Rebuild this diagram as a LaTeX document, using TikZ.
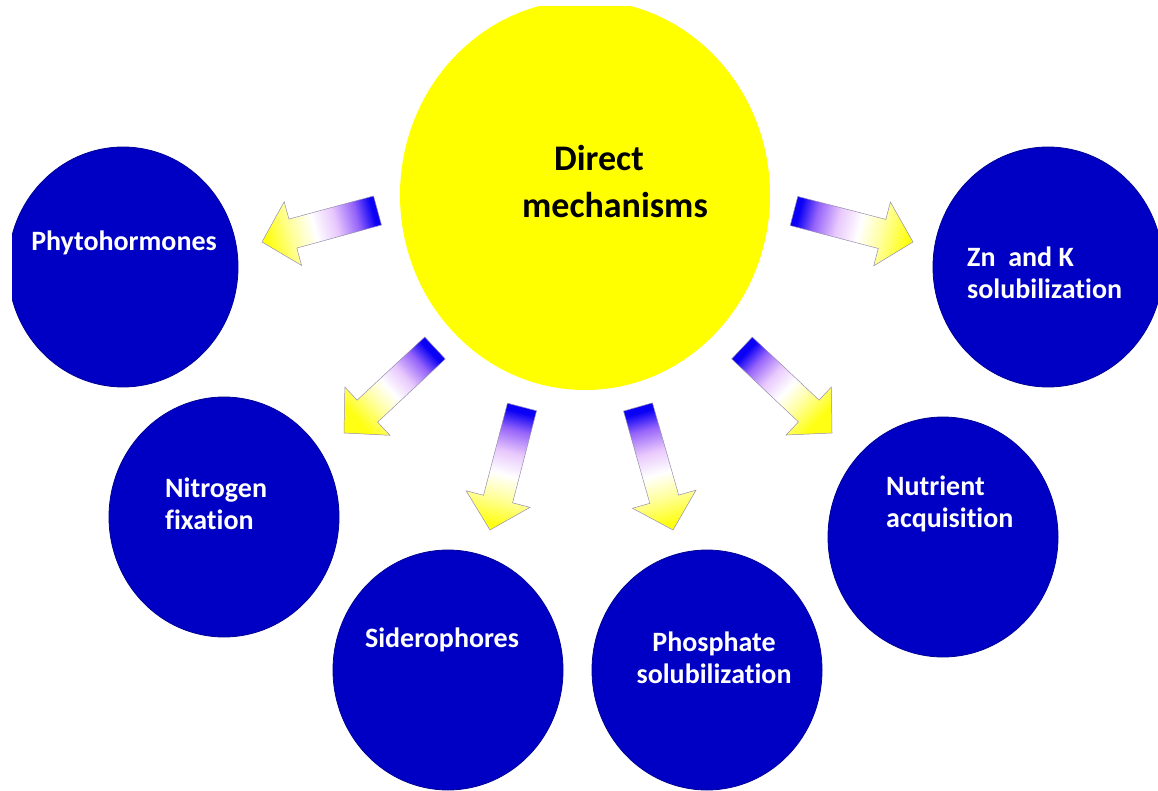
\documentclass[tikz,border=0pt]{standalone}
\usepackage{fontspec}
\setmainfont{Carlito}[Ligatures=NoCommon]
\usetikzlibrary{calc,shapes.geometric}
\definecolor{circblue}{RGB}{0,0,196}
\definecolor{circedge}{RGB}{0,0,150}
\definecolor{sunyellow}{RGB}{255,255,0}
\definecolor{arrowblue}{RGB}{10,0,245}
\definecolor{arrowviolet}{RGB}{150,100,250}
\definecolor{arrowlilac}{RGB}{232,200,252}
\definecolor{arrowyellow}{RGB}{255,255,20}
\definecolor{arrowedge}{RGB}{150,140,175}
\pgfdeclarehorizontalshading{arrowshade}{100bp}{color(0bp)=(arrowblue); color(25bp)=(arrowblue); color(33bp)=(arrowviolet); color(43bp)=(arrowlilac); color(53bp)=(white); color(63bp)=(arrowyellow!40!white); color(75bp)=(arrowyellow); color(100bp)=(arrowyellow)}
\tikzset{
  bubble/.style={ellipse, fill=circblue, draw=circedge, line width=0.8pt,
    minimum width=230pt, minimum height=240pt, inner sep=0pt},
  sun/.style={ellipse, fill=sunyellow, minimum width=370pt, minimum height=390pt, inner sep=0pt},
  lbl/.style={text=white, font=\fontsize{28}{32}\selectfont\bfseries, inner sep=0pt},
  biglbl/.style={text=black, font=\fontsize{36}{47}\selectfont\bfseries, inner sep=0pt, align=center},
  arrowbody/.style={shading=arrowshade, draw=arrowedge, line width=0.5pt, line join=miter}
}
\newcommand{\blockarrow}[2]{%
  \path let \p1=($(#2)-(#1)$) in \pgfextra{\pgfmathsetmacro{\arrang}{atan2(\y1,\x1)}\global\let\arrangle\arrang};
  \coordinate (#2-n) at ($(#2)!32pt!(#1)$);
  \shade[arrowbody, shading angle=\arrangle]
    ($(#1)!15pt!90:(#2)$) -- ($(#2-n)!15pt!90:(#2)$) -- ($(#2-n)!33pt!90:(#2)$)
    -- (#2) -- ($(#2-n)!33pt!-90:(#2)$) -- ($(#2-n)!15pt!-90:(#2)$)
    -- ($(#1)!15pt!-90:(#2)$) -- cycle;
}
\begin{document}
\begin{tikzpicture}[x=1pt,y=-1pt]
\useasboundingbox (0,0) rectangle (1158,791);
\begin{scope}
\clip (12,7) rectangle (1158,791);
\node[sun] (direct) at (585,195) {};
\node[bubble] (phyto) at (123,267) {};
\node[bubble] (znk) at (1048,267) {};
\node[bubble] (nitro) at (224,517) {};
\node[bubble] (sidero) at (448,670) {};
\node[bubble] (phos) at (707,670) {};
\node[bubble] (nutri) at (943,537) {};
\end{scope}
% arrow tails and tips
\coordinate (a1t) at (377.5,210.5); \coordinate (a1h) at (262,242);
\coordinate (a2t) at (794,211);     \coordinate (a2h) at (913,242);
\coordinate (a3t) at (435,348);     \coordinate (a3h) at (344,433);
\coordinate (a4t) at (742,348);     \coordinate (a4h) at (832,433);
\coordinate (a5t) at (522,407);     \coordinate (a5h) at (490,530);
\coordinate (a6t) at (638,407);     \coordinate (a6h) at (673,530);
\blockarrow{a1t}{a1h}
\blockarrow{a2t}{a2h}
\blockarrow{a3t}{a3h}
\blockarrow{a4t}{a4h}
\blockarrow{a5t}{a5h}
\blockarrow{a6t}{a6h}
% labels
\node[biglbl] (directtxt) at (615,182) {\hspace*{-32pt}Direct\\mechanisms};
\node[lbl] (phytotxt) at (124,243) {Phytohormones};
\node[lbl, anchor=west, align=left] (znktxt) at (967,273) {Zn~ and K\\solubilization};
\node[lbl, anchor=west, align=left] (nitrotxt) at (165,504) {Nitrogen\\fixation};
\node[lbl] (siderotxt) at (442,640) {Siderophores};
\node[lbl, align=center] (phostxt) at (714,658) {Phosphate\\solubilization};
\node[lbl, anchor=west, align=left] (nutritxt) at (886,504) {Nutrient\\acquisition};
\end{tikzpicture}
\end{document}
